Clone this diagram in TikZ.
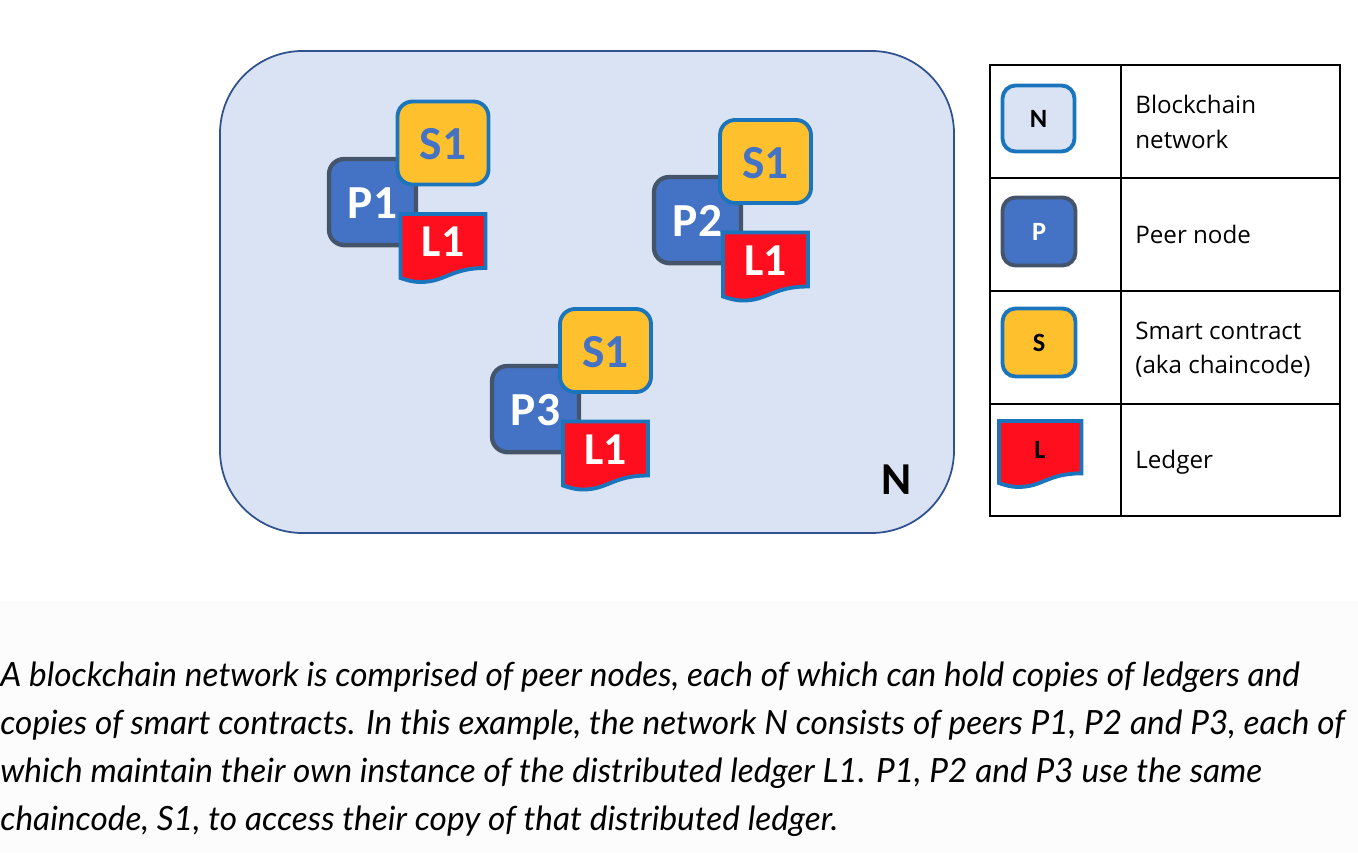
\documentclass[tikz,border=0pt]{standalone}
\usepackage{fontspec}
\setmainfont{Carlito}
\newfontfamily\legendfont{Open Sans}
\newfontfamily\capfont{Lato}
\usetikzlibrary{shadows}
\definecolor{netfill}{HTML}{DAE3F3}
\definecolor{netline}{HTML}{2F528F}
\definecolor{peerfill}{HTML}{4472C4}
\definecolor{peerline}{HTML}{44546A}
\definecolor{smartfill}{HTML}{FFC02D}
\definecolor{smartline}{HTML}{1B75BC}
\definecolor{ledgerfill}{HTML}{FF0E1E}
\definecolor{capback}{HTML}{FCFCFC}
\tikzset{
  box/.style={rounded corners=0.3cm,inner sep=0pt,font=\bfseries\fontsize{27}{27}\selectfont,text height=19.3pt},
  peerbox/.style={box,draw=peerline,fill=peerfill,line width=2.4pt,text=white,minimum width=1.74cm,minimum height=1.72cm,
    drop shadow={shadow xshift=0.02cm,shadow yshift=-0.06cm,opacity=0.35}},
  smartbox/.style={box,draw=smartline,fill=smartfill,line width=2.2pt,text=peerfill,minimum width=1.82cm,minimum height=1.66cm},
  ledgerpath/.style={draw=smartline,fill=ledgerfill,line width=2.2pt},
  ledgertext/.style={inner sep=0pt,font=\bfseries\fontsize{26}{26}\selectfont,text=white},
  legendbox/.style={rounded corners=0.26cm,inner sep=0pt,line width=2.2pt,font=\bfseries\fontsize{15}{15}\selectfont},
  legendtext/.style={anchor=base west,inner sep=0pt,font=\legendfont\fontsize{13.75}{13.75}\selectfont},
  capline/.style={anchor=base west,inner sep=0pt,font=\capfont\itshape\fontsize{19}{19}\selectfont}
}
% ledger sheet, top left corner at the origin of the scope
\newcommand{\ledgersheet}{(0,0) -- (85,0) -- (85,54) .. controls (50,54) and (45,68) .. (20,68) .. controls (12,68) and (6,66) .. (0,64) -- cycle}
\begin{document}
\begin{tikzpicture}[x=0.02cm,y=-0.02cm]
\useasboundingbox (0,0) rectangle (1358,852);
\fill[capback] (0,601) rectangle (1358,852);
% network
\draw[netline,fill=netfill,line width=1pt,rounded corners=1.65cm] (220,51) rectangle (954,533);
\node[inner sep=0pt,font=\bfseries\fontsize{26}{26}\selectfont] (netN) at (897,480) {N};
% peers
\foreach \px/\py/\sx/\sy/\pname in {0/0/0/0/1,325/18/322.5/18.5/2,163/207/162.5/207.5/3}{
  \node[peerbox] (peer\pname) at ({372.5+\px},{202+\py}) {P\pname};
  \begin{scope}[shift={(\sx,\sy)}]
  \begin{scope}[shift={(400.5,214)}]
  \draw[ledgerpath] \ledgersheet;
  \end{scope}
  \node[ledgertext] (ledger\pname) at (443,242) {L1};
  \node[smartbox] (smart\pname) at (443,143) {S1};
  \end{scope}
}
% legend table
\draw[line width=1pt] (990,65) rectangle (1340,516);
\draw[line width=1pt] (1121,65) -- (1121,516);
\foreach \ry in {178,291,404}{
  \draw[line width=1pt] (990,\ry) -- (1340,\ry);
}
\node[legendbox,draw=smartline,fill=netfill,minimum width=1.44cm,minimum height=1.32cm] (keyN) at (1038.5,118.5) {N};
\node[legendbox,draw=peerline,fill=peerfill,text=white,minimum width=1.46cm,minimum height=1.36cm] (keyP) at (1039,231.5) {P};
\node[legendbox,draw=smartline,fill=smartfill,minimum width=1.46cm,minimum height=1.36cm] (keyS) at (1039,342.5) {S};
\begin{scope}[shift={(999,421)},scale=0.97]
\draw[ledgerpath] \ledgersheet;
\end{scope}
\node[inner sep=0pt,font=\bfseries\fontsize{15}{15}\selectfont] (keyL) at (1040,450) {L};
\node[legendtext] (textNa) at (1135,113) {Blockchain};
\node[legendtext] (textNb) at (1135,148) {network};
\node[legendtext] (textP) at (1135,243) {Peer node};
\node[legendtext] (textSa) at (1135,339) {Smart contract};
\node[legendtext] (textSb) at (1135,373) {(aka chaincode)};
\node[legendtext] (textL) at (1135,468) {Ledger};
% caption
\node[capline] (capA) at (0,686) {A blockchain network is comprised of peer nodes, each of which can hold copies of ledgers and};
\node[capline] (capB) at (0,734) {copies of smart contracts. In this example, the network N consists of peers P1, P2 and P3, each of};
\node[capline] (capC) at (0,782) {which maintain their own instance of the distributed ledger L1. P1, P2 and P3 use the same};
\node[capline] (capD) at (0,830) {chaincode, S1, to access their copy of that distributed ledger.};
\end{tikzpicture}
\end{document}
